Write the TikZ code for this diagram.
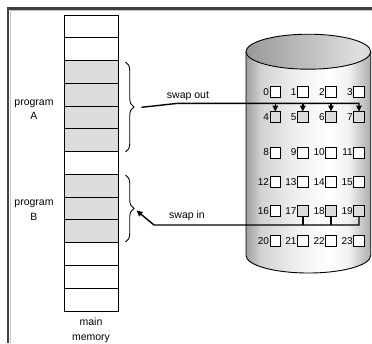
\documentclass[tikz,border=0pt]{standalone}
\usepackage{fontspec}
\setmainfont{Liberation Sans}
\usetikzlibrary{arrows.meta,decorations.pathreplacing}
\definecolor{memgray}{HTML}{DCDCDC}
\definecolor{framedark}{HTML}{404040}
\pgfdeclarehorizontalshading{cylside}{100bp}{color(0bp)=(gray!75); color(25bp)=(gray!75); color(31bp)=(gray!35); color(45bp)=(gray!12); color(58bp)=(white); color(66bp)=(gray!10); color(75bp)=(gray!65); color(100bp)=(gray!65)}
\pgfdeclarehorizontalshading{cyltop}{100bp}{color(0bp)=(gray!80); color(25bp)=(gray!80); color(50bp)=(gray!50); color(70bp)=(gray!25); color(75bp)=(gray!30); color(100bp)=(gray!30)}
\begin{document}
\begin{tikzpicture}[x=1pt,y=-1pt,
  font=\fontsize{10.5}{14.5}\selectfont,
  memrow/.style={draw=black, line width=0.9pt, minimum width=54pt, minimum height=22.77pt, inner sep=0pt, outer sep=0pt},
  diskbox/.style={draw=black, line width=0.9pt, minimum width=10.5pt, minimum height=11pt, inner sep=0pt, outer sep=0pt},
  numlbl/.style={anchor=east, inner sep=0.9pt, font=\fontsize{10}{12}\selectfont},
  conn/.style={line width=1.4pt, black},
  tip/.style={-{Triangle[length=6pt,width=5.5pt]}},
  bracestyle/.style={decorate, decoration={brace, amplitude=8.5pt}, line width=0.9pt}]
\useasboundingbox (0,0) rectangle (372,343);
% frame
\draw[line width=2.6pt, framedark] (7.8,343) -- (7.8,8.3) -- (372,8.3);
\draw[line width=0.8pt, gray!45] (10,343) -- (10,10.5) -- (372,10.5);
% main memory
\foreach \i/\f in {0/white,1/white,2/memgray,3/memgray,4/memgray,5/memgray,6/white,7/memgray,8/memgray,9/memgray,10/white,11/white,12/white}
  \node[memrow, fill=\f] (m\i) at (91, 15+22.77*\i+11.385) {};
\draw[line width=1pt] (m0.north west) rectangle (m12.south east);
\node[align=center] (pa) at (34,109.5) {program\\A};
\node[align=center] (pb) at (34,210) {program\\B};
\node[align=center] (mm) at (91,330.5) {main\\memory};
% braces
\draw[bracestyle] (125.5,62) -- (125.5,152);
\draw[bracestyle] (125.5,175) -- (125.5,242);
% disk
\path[shade, shading=cylside, draw=black, line width=0.9pt] (246,51.7) -- (246,255.5) arc[start angle=180, end angle=360, x radius=62.35pt, y radius=17.5pt] -- (370.7,51.7) -- cycle;
\path[shade, shading=cyltop, draw=black, line width=0.9pt] (308.35,51.7) ellipse [x radius=62.35pt, y radius=17.5pt];
\foreach \r/\y in {0/92,1/117,2/152.5,3/181.7,4/211,5/241}{
  \foreach \c/\x in {0/275.3,1/302.8,2/331,3/359}{
    \pgfmathtruncatemacro\n{4*\r+\c}
    \pgfmathtruncatemacro\g{((\n>3)&&(\n<8))||((\n>16)&&(\n<20))}
    \ifnum\g=1 \def\bc{memgray}\else\def\bc{white}\fi
    \node[diskbox, fill=\bc] (b\n) at (\x,\y) {};
    \node[numlbl] (n\n) at (b\n.west) {\n};
  }
}
% swap out
\coordinate (soA) at (141.5,107.3);
\coordinate (soB) at (178,103.3);
\draw[conn, tip] (soA) -- (soB) -| (b7.north);
\foreach \k in {4,5,6} \draw[conn, tip] (b\k.north |- soB) -- (b\k.north);
\node (lso) at (188,96.5) {swap out};
% swap in
\coordinate (siA) at (154,225);
\coordinate (siB) at (136.5,210.5);
\draw[conn, tip] (b19.south) |- (siA) -- (siB);
\foreach \k in {17,18} \draw[conn] (b\k.south) -- (b\k.south |- siA);
\node (lsi) at (187,216) {swap in};
\end{tikzpicture}
\end{document}
